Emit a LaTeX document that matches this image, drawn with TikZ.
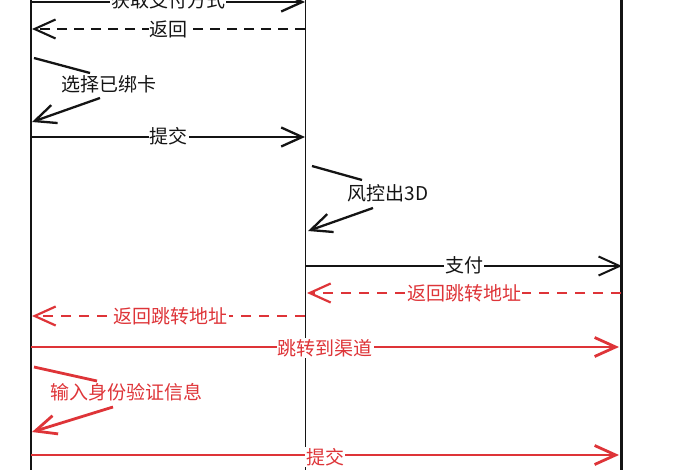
\documentclass[tikz,border=0pt]{standalone}
\usepackage{fontspec}
\newfontfamily\cjk{Noto Sans CJK SC}
\usetikzlibrary{arrows.meta}
\definecolor{msgred}{RGB}{222,52,56}
\definecolor{ink}{RGB}{20,20,20}
\tikzset{
  lifeline/.style={draw=ink, line width=2.4pt},
  msg/.style={draw=ink, line width=2.3pt, -{Straight Barb[length=21pt,width=19pt]}},
  ret/.style={msg, line width=2.1pt, dash pattern=on 10pt off 7pt},
  redmsg/.style={msg, draw=msgred, line width=2.8pt},
  redret/.style={redmsg, line width=2.2pt, dash pattern=on 10pt off 8pt},
  plain/.style={draw=ink, line width=2.3pt},
  redplain/.style={draw=msgred, line width=2.8pt},
  lbl/.style={fill=white, inner sep=1pt, font=\cjk\fontsize{19}{21}\selectfont, text=ink},
  redlbl/.style={lbl, text=msgred},
  freelbl/.style={inner sep=0pt, font=\cjk\fontsize{19}{21}\selectfont, text=ink},
  redfreelbl/.style={freelbl, text=msgred}
}
\begin{document}
\begin{tikzpicture}[x=1pt,y=-1pt]
\useasboundingbox (0,0) rectangle (700,470);
\clip (0,0) rectangle (700,470);
% lifelines
\coordinate (L1t) at (31,-5);   \coordinate (L1b) at (31,475);
\coordinate (L2t) at (305.5,-5); \coordinate (L2b) at (305.5,475);
\coordinate (L3t) at (621.5,-5); \coordinate (L3b) at (621.5,475);
\draw[lifeline] (L1t) -- (L1b);
\draw[lifeline, line width=1.9pt] (L2t) -- (L2b);
\draw[lifeline, line width=3.4pt] (L3t) -- (L3b);
% 1 获取支付方式
\coordinate (m1a) at (31,2); \coordinate (m1b) at (305,2);
\draw[msg] (m1a) -- node[lbl, yshift=2pt]{获取支付方式} (m1b);
% 2 返回
\coordinate (m2a) at (305,29); \coordinate (m2b) at (32,29);
\draw[ret] (m2a) -- node[lbl]{返回} (m2b);
% 3 self: 选择已绑卡
\coordinate (s1a) at (34,58); \coordinate (s1b) at (90,73);
\node[freelbl] (s1l) at (109,84) {选择已绑卡};
\coordinate (s1c) at (100,98); \coordinate (s1d) at (32,122);
\draw[plain] (s1a) -- (s1b);
\draw[msg] (s1c) -- (s1d);
% 4 提交
\coordinate (m4a) at (32,137); \coordinate (m4b) at (305,137);
\draw[msg] (m4a) -- node[lbl, yshift=1pt]{提交} (m4b);
% 5 self: 风控出3D
\coordinate (s2a) at (312,166); \coordinate (s2b) at (362,180);
\node[freelbl] (s2l) at (388,193) {风控出3D};
\coordinate (s2c) at (373,208); \coordinate (s2d) at (308,231);
\draw[plain] (s2a) -- (s2b);
\draw[msg] (s2c) -- (s2d);
% 6 支付
\coordinate (m6a) at (306,266); \coordinate (m6b) at (622,266);
\draw[msg, line width=2pt] (m6a) -- node[lbl, yshift=1pt]{支付} (m6b);
% 7 返回跳转地址 (right)
\coordinate (m7a) at (621,293); \coordinate (m7b) at (307,293);
\draw[redret] (m7a) -- node[redlbl]{返回跳转地址} (m7b);
% 8 返回跳转地址 (left)
\coordinate (m8a) at (305,316); \coordinate (m8b) at (32,316);
\draw[redret] (m8a) -- node[redlbl, xshift=2pt]{返回跳转地址} (m8b);
% 9 跳转到渠道
\coordinate (m9a) at (31,347); \coordinate (m9b) at (619,347);
\draw[redmsg] (m9a) -- node[redlbl, yshift=-1pt]{跳转到渠道} (m9b);
% 10 self: 输入身份验证信息
\coordinate (s3a) at (34,367); \coordinate (s3b) at (97,381);
\node[redfreelbl] (s3l) at (126,392) {输入身份验证信息};
\coordinate (s3c) at (113,407); \coordinate (s3d) at (32,432);
\draw[redplain] (s3a) -- (s3b);
\draw[redmsg] (s3c) -- (s3d);
% 11 提交
\coordinate (m11a) at (31,455); \coordinate (m11b) at (619,455);
\draw[redmsg] (m11a) -- node[redlbl, yshift=-2pt]{提交} (m11b);
\end{tikzpicture}
\end{document}
